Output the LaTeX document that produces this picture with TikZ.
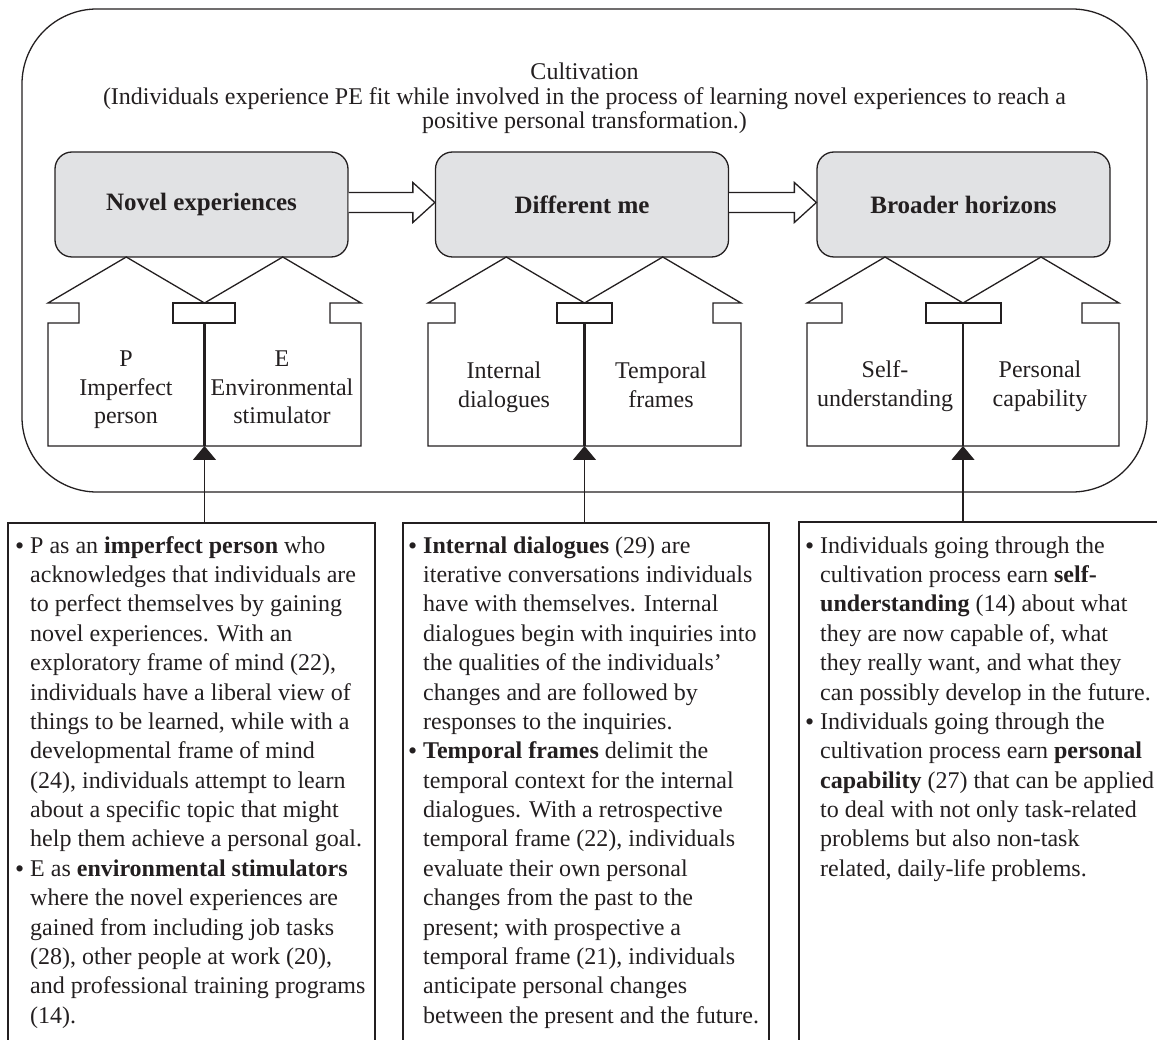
\documentclass[tikz,border=0pt]{standalone}
\usepackage{fontspec}
\setmainfont{Liberation Serif}
\usetikzlibrary{arrows.meta,calc}

\definecolor{ink}{RGB}{35,31,32}
\definecolor{boxgray}{RGB}{225,226,228}

% bullet hung to the left of an item's first line
\newcommand\itembul{\llap{\raisebox{-1pt}{\fontsize{26}{26}\selectfont\textbullet}\hspace{6pt}}}

% two up-pointing block arrows sharing a joint, with a thick divider
% #1 left x, #2 right x, #3 inner x of left notch, #4 inner x of right notch,
% #5/#6 left/right x of the joint plate
\newcommand\drawhouse[6]{%
  \draw[frame, line join=miter]
    (#1,446) -- (#1,323) -- (#3,323) -- (#3,303) -- (#1,303)
    -- ({(3*#1+#2)/4},257) -- ({(#1+#2)/2},303) -- ({(#1+3*#2)/4},257)
    -- (#2,303) -- (#4,303) -- (#4,323) -- (#2,323) -- (#2,446) -- cycle;
  \draw[frame] (#5,303) rectangle (#6,323);
  \draw[ink, line width=2.2pt] ({(#1+#2)/2},323) -- ({(#1+#2)/2},446);
}

\begin{document}
\begin{tikzpicture}[x=1pt,y=-1pt,
  every node/.style={text=ink},
  frame/.style={draw=ink, line width=1.3pt},
  stage/.style={draw=ink, line width=1.3pt, fill=boxgray, rounded corners=17pt,
    minimum width=293pt, minimum height=105pt, inner sep=0pt,
    font=\fontsize{25}{28}\selectfont\bfseries},
  panel/.style={draw=ink, line width=1.6pt, anchor=north west, inner sep=0pt},
  body/.style={inner sep=0pt, anchor=base west, font=\fontsize{24}{29.4}\selectfont},
  label/.style={inner sep=0pt, anchor=base, font=\fontsize{24}{28.5}\selectfont},
  conn/.style={draw=ink, line width=1.2pt, -{Triangle[width=23pt,length=14pt]}},
  blockarrow/.style={draw=ink, line width=1.3pt, fill=white, line join=miter}
]
\useasboundingbox (0,0) rectangle (1157,1040);
\clip (0,0) rectangle (1157,1040);

% outer frame of the cultivation process
\draw[frame, rounded corners=75pt] (22,9) rectangle (1147,492);

\node[inner sep=0pt, anchor=base, font=\fontsize{24}{24}\selectfont] (title) at (584.5,80)
  {\begin{tabular}[t]{@{}c@{}}Cultivation\\
   (Individuals experience PE fit while involved in the process of learning novel experiences to reach a\\
   positive personal transformation.)\end{tabular}};

% three stages
\node[stage] (nov) at (201.5,204.5) {Novel experiences};
\node[stage] (dif) at (582,204.5) {Different me};
\node[stage] (bro) at (963.5,204.5) {Broader horizons};

\draw[blockarrow] ($(nov.east)+(0,-12)$) -- ($(dif.west)+(-22,-12)$) -- ($(dif.west)+(-22,-22)$)
  -- ($(dif.west)+(0,-2)$) -- ($(dif.west)+(-22,18)$) -- ($(dif.west)+(-22,8)$) -- ($(nov.east)+(0,8)$);
\draw[blockarrow] ($(dif.east)+(0,-12)$) -- ($(bro.west)+(-22,-12)$) -- ($(bro.west)+(-22,-22)$)
  -- ($(bro.west)+(0,-2)$) -- ($(bro.west)+(-22,18)$) -- ($(bro.west)+(-22,8)$) -- ($(dif.east)+(0,8)$);

% components feeding each stage
\drawhouse{48}{361}{79}{330}{173}{235}
\drawhouse{428}{741}{455}{713}{557}{612}
\drawhouse{807}{1119}{842}{1082}{926}{1001}

\coordinate (hb1) at (204.5,446);
\coordinate (hb2) at (584.5,446);
\coordinate (hb3) at (963,446);

\node[label] (p) at (126,367) {\begin{tabular}[t]{@{}c@{}}P\\Imperfect\\person\end{tabular}};
\node[label] (e) at (282,367) {\begin{tabular}[t]{@{}c@{}}E\\Environmental\\stimulator\end{tabular}};
\node[label] (idl) at (504,379) {\begin{tabular}[t]{@{}c@{}}Internal\\dialogues\end{tabular}};
\node[label] (tfr) at (661,379) {\begin{tabular}[t]{@{}c@{}}Temporal\\frames\end{tabular}};
\node[label] (sun) at (885,378) {\begin{tabular}[t]{@{}c@{}}Self-\\understanding\end{tabular}};
\node[label] (pca) at (1040,378) {\begin{tabular}[t]{@{}c@{}}Personal\\capability\end{tabular}};

% explanation panels
\node[panel, minimum width=367pt, minimum height=540pt] (pl) at (7,522) {};
\node[panel, minimum width=366pt, minimum height=540pt] (pm) at (402,522) {};
\node[panel, minimum width=380pt, minimum height=540pt] (pr) at (798,521) {};

\draw[conn] (pl.north -| hb1) -- (hb1);
\draw[conn] (pm.north -| hb2) -- (hb2);
\draw[conn] (pr.north -| hb3) -- (hb3);

\node[body] (tl) at (30,553) {\begin{tabular}[t]{@{}l@{}}
\itembul P as an \textbf{imperfect person} who\\
acknowledges that individuals are\\
to perfect themselves by gaining\\
novel experiences. With an\\
exploratory frame of mind (22),\\
individuals have a liberal view of\\
things to be learned, while with a\\
developmental frame of mind\\
(24), individuals attempt to learn\\
about a specific topic that might\\
help them achieve a personal goal.\\
\itembul E as \textbf{environmental stimulators}\\
where the novel experiences are\\
gained from including job tasks\\
(28), other people at work (20),\\
and professional training programs\\
(14).
\end{tabular}};

\node[body] (tm) at (423,553) {\begin{tabular}[t]{@{}l@{}}
\itembul\textbf{Internal dialogues} (29) are\\
iterative conversations individuals\\
have with themselves. Internal\\
dialogues begin with inquiries into\\
the qualities of the individuals'\\
changes and are followed by\\
responses to the inquiries.\\
\itembul\textbf{Temporal frames} delimit the\\
temporal context for the internal\\
dialogues. With a retrospective\\
temporal frame (22), individuals\\
evaluate their own personal\\
changes from the past to the\\
present; with prospective a\\
temporal frame (21), individuals\\
anticipate personal changes\\
between the present and the future.
\end{tabular}};

\node[body] (tr) at (820,553) {\begin{tabular}[t]{@{}l@{}}
\itembul Individuals going through the\\
cultivation process earn \textbf{self-}\\
\textbf{understanding} (14) about what\\
they are now capable of, what\\
they really want, and what they\\
can possibly develop in the future.\\
\itembul Individuals going through the\\
cultivation process earn \textbf{personal}\\
\textbf{capability} (27) that can be applied\\
to deal with not only task-related\\
problems but also non-task\\
related, daily-life problems.
\end{tabular}};
\end{tikzpicture}
\end{document}
